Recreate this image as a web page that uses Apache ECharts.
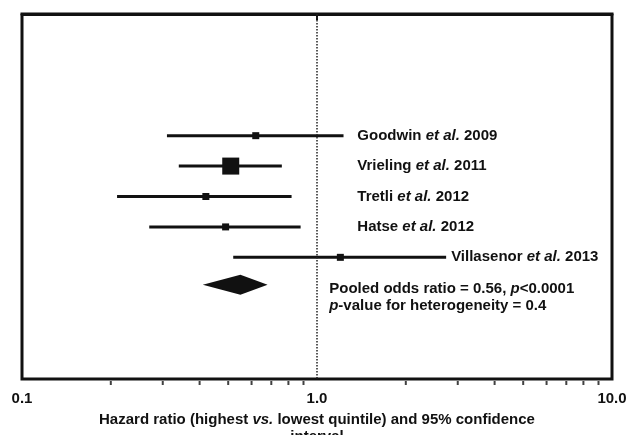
<!DOCTYPE html>
<html>
<head>
<meta charset="utf-8">
<script src="https://cdn.jsdelivr.net/npm/echarts@6/dist/echarts.min.js"></script>
<style>
  html, body { margin: 0; padding: 0; background: #fff; }
  #chart { width: 629px; height: 435px; }
</style>
</head>
<body>
<div id="chart"></div>
<script>
// study estimates (hazard ratio, 95% CI), one per row
const studies = ["Goodwin", "Vrieling", "Tretli", "Hatse", "Villasenor"];
const years = [2009, 2011, 2012, 2012, 2013];
const hazardRatio = [0.62, 0.51, 0.42, 0.49, 1.2];
const ciLower = [0.31, 0.34, 0.21, 0.27, 0.52];
const ciUpper = [1.23, 0.76, 0.82, 0.88, 2.74];
const rows = [4, 5, 6, 7, 8];

// pooled estimate
const pooledOR = 0.55;
const pooledCI = [0.41, 0.68];
const pooledRow = 8.9;

const xTicks = [0.1, 1, 10];
const minorTicks = [0.2, 0.3, 0.4, 0.5, 0.6, 0.7, 0.8, 0.9, 2, 3, 4, 5, 6, 7, 8, 9];

const FONT = "'Liberation Sans', Arial, sans-serif";
const INK = "#111";

const txt = (size, italic) => ({
  fontFamily: FONT, fontSize: size, fontWeight: "bold",
  fontStyle: italic ? "italic" : "normal", fill: INK, color: INK
});

const chart = echarts.init(document.getElementById("chart"));

chart.setOption({
  animation: false,
  grid: {
    left: 22, right: 17, top: 14, bottom: 56,
    outerBoundsMode: "none",
    containLabel: false,
    show: true, borderColor: INK, borderWidth: 3
  },
  xAxis: {
    type: "log",
    logBase: 10,
    min: xTicks[0],
    max: xTicks[xTicks.length - 1],
    axisLine: { lineStyle: { color: INK, width: 3 } },
    axisTick: { length: 6, lineStyle: { color: INK, width: 2 } },
    splitLine: { show: false },
    axisLabel: {
      formatter: v => Number(v).toFixed(1),
      fontFamily: FONT, fontSize: 15, fontWeight: "bold", color: INK, margin: 12
    },
    name: "Hazard ratio (highest {i|vs.} lowest quintile) and 95% confidence\ninterval",
    nameLocation: "middle",
    nameGap: 26,
    nameTextStyle: {
      fontFamily: FONT, fontSize: 15, fontWeight: "bold", color: INK, lineHeight: 17,
      rich: { i: { fontFamily: FONT, fontSize: 15, fontWeight: "bold", fontStyle: "italic", color: INK, lineHeight: 17 } }
    }
  },
  yAxis: { type: "value", inverse: true, min: 0, max: 12, show: false },
  series: [
    {
      type: "custom",
      name: "studies",
      data: studies.map((s, i) => [hazardRatio[i], ciLower[i], ciUpper[i], rows[i]]),
      encode: { x: [0, 1, 2], y: 3 },
      clip: false,
      renderItem: function (params, api) {
        const i = params.dataIndex;
        const y = api.value(3);
        const lo = api.coord([api.value(1), y]);
        const hi = api.coord([api.value(2), y]);
        const pt = api.coord([api.value(0), y]);
        const s = i === 1 ? 17 : 7;
        const tx = Math.max(api.coord([1.37, y])[0], hi[0] + 5);
        return {
          type: "group",
          children: [
            { type: "line", shape: { x1: lo[0], y1: lo[1], x2: hi[0], y2: hi[1] },
              style: { stroke: INK, lineWidth: 3 } },
            { type: "rect", shape: { x: pt[0] - s / 2, y: pt[1] - s / 2, width: s, height: s },
              style: { fill: INK } },
            { type: "text", x: tx, y: pt[1],
              style: Object.assign(txt(15, false), {
                text: "{n|" + studies[i] + " }{i|et al.}{n| " + years[i] + "}",
                align: "left", verticalAlign: "middle",
                rich: { n: txt(15, false), i: txt(15, true) }
              }) }
          ]
        };
      },
      markLine: {
        silent: true,
        symbol: "none",
        label: { show: false },
        lineStyle: { type: "dotted", color: "#222", width: 1.5 },
        data: [{ xAxis: 1 }]
      }
    },
    {
      type: "custom",
      name: "pooled",
      data: [[pooledOR, pooledCI[0], pooledCI[1], pooledRow]],
      encode: { x: [0, 1, 2], y: 3 },
      clip: false,
      renderItem: function (params, api) {
        const y = api.value(3);
        const lo = api.coord([api.value(1), y]);
        const hi = api.coord([api.value(2), y]);
        const c = api.coord([api.value(0), y]);
        const t = api.coord([1.1, y]);
        return {
          type: "group",
          children: [
            { type: "polygon",
              shape: { points: [[lo[0], lo[1]], [c[0], c[1] - 10], [hi[0], hi[1]], [c[0], c[1] + 10]] },
              style: { fill: INK } },
            { type: "text", x: t[0], y: c[1] - 4,
              style: Object.assign(txt(15, false), {
                text: "{n|Pooled odds ratio = 0.56, }{i|p}{n|<0.0001}\n{i|p}{n|-value for heterogeneity = 0.4}",
                align: "left", verticalAlign: "top", lineHeight: 17,
                rich: { n: Object.assign(txt(15, false), { lineHeight: 17 }), i: Object.assign(txt(15, true), { lineHeight: 17 }) }
              }) }
          ]
        };
      }
    },
    {
      type: "scatter",
      name: "minor ticks",
      silent: true,
      clip: false,
      symbol: "rect",
      symbolSize: [2, 4],
      symbolOffset: [0, 4],
      itemStyle: { color: INK },
      data: minorTicks.map(v => [v, 12])
    }
  ]
});
</script>
</body>
</html>
